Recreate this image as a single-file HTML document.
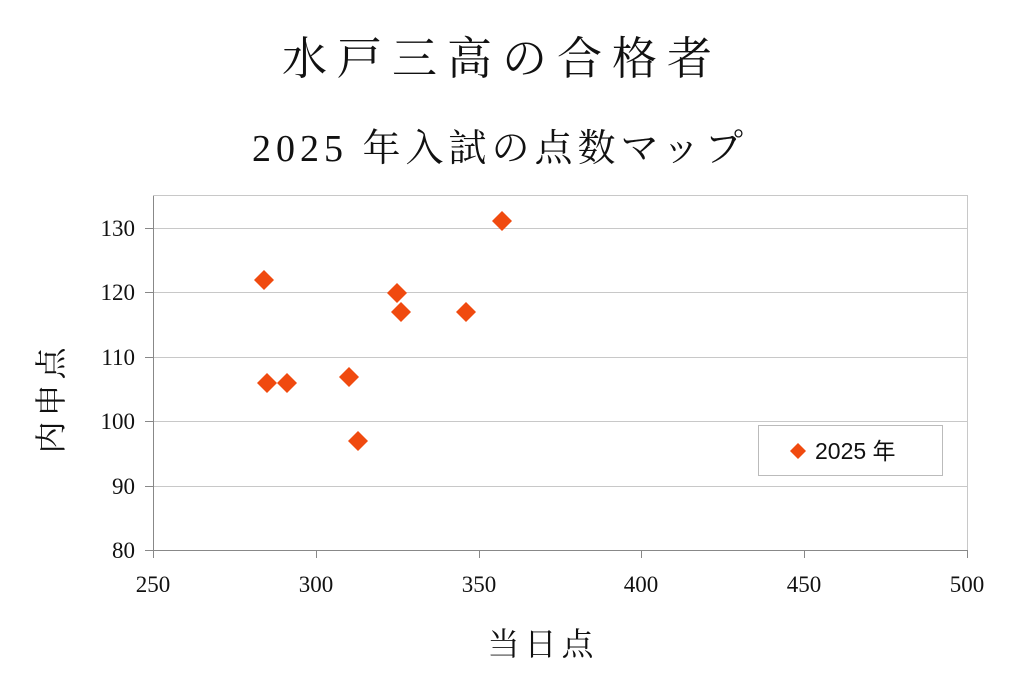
<!DOCTYPE html>
<html><head><meta charset="utf-8"><style>
body{margin:0;background:#fff;}
svg{display:block}
</style></head><body>
<svg width="1024" height="684" xmlns="http://www.w3.org/2000/svg">
<rect width="1024" height="684" fill="#fff"/>
<text x="502" y="74" text-anchor="middle" font-family="'Noto Serif CJK SC','Noto Sans CJK JP',serif" font-size="45" letter-spacing="10" fill="#111">水戸三高の合格者</text>
<text x="500" y="161" text-anchor="middle" font-family="'Liberation Serif','Noto Serif CJK SC',serif" font-size="38" letter-spacing="5" fill="#111">2025 年入試の点数マップ</text>
<g stroke="#c8c8c8" stroke-width="1">
<rect x="153.5" y="195.5" width="814" height="355" fill="none"/>
<line x1="153" y1="228.5" x2="967" y2="228.5"/>
<line x1="153" y1="292.5" x2="967" y2="292.5"/>
<line x1="153" y1="357.5" x2="967" y2="357.5"/>
<line x1="153" y1="421.5" x2="967" y2="421.5"/>
<line x1="153" y1="486.5" x2="967" y2="486.5"/>
</g>
<g stroke="#888" stroke-width="1">
<line x1="153.5" y1="196" x2="153.5" y2="551"/>
<line x1="153" y1="550.5" x2="967" y2="550.5"/>
<line x1="145" y1="228.5" x2="153" y2="228.5"/>
<line x1="145" y1="292.5" x2="153" y2="292.5"/>
<line x1="145" y1="357.5" x2="153" y2="357.5"/>
<line x1="145" y1="421.5" x2="153" y2="421.5"/>
<line x1="145" y1="486.5" x2="153" y2="486.5"/>
<line x1="145" y1="550.5" x2="153" y2="550.5"/>
<line x1="153.5" y1="550" x2="153.5" y2="558"/>
<line x1="316.5" y1="550" x2="316.5" y2="558"/>
<line x1="479.5" y1="550" x2="479.5" y2="558"/>
<line x1="641.5" y1="550" x2="641.5" y2="558"/>
<line x1="804.5" y1="550" x2="804.5" y2="558"/>
<line x1="967.5" y1="550" x2="967.5" y2="558"/>
</g>
<g font-family="'Liberation Serif',serif" font-size="23" fill="#111" text-anchor="end">
<text x="135" y="236">130</text><text x="135" y="300">120</text><text x="135" y="365">110</text>
<text x="135" y="429">100</text><text x="135" y="494">90</text><text x="135" y="558">80</text>
</g>
<g font-family="'Liberation Serif',serif" font-size="23" fill="#111" text-anchor="middle">
<text x="153" y="592">250</text><text x="316" y="592">300</text><text x="479" y="592">350</text>
<text x="641" y="592">400</text><text x="804" y="592">450</text><text x="967" y="592">500</text>
</g>
<text x="543" y="655" text-anchor="middle" font-family="'Noto Serif CJK SC',serif" font-size="32" letter-spacing="5" fill="#111">当日点</text>
<text transform="translate(62,398) rotate(-90)" text-anchor="middle" font-family="'Noto Serif CJK SC',serif" font-size="32" letter-spacing="5" fill="#111">内申点</text>
<g fill="#f04a0f">
<path d="M264,270 l10,10 l-10,10 l-10,-10z"/>
<path d="M267,373 l10,10 l-10,10 l-10,-10z"/>
<path d="M287,373 l10,10 l-10,10 l-10,-10z"/>
<path d="M349,367 l10,10 l-10,10 l-10,-10z"/>
<path d="M358,431 l10,10 l-10,10 l-10,-10z"/>
<path d="M397,283 l10,10 l-10,10 l-10,-10z"/>
<path d="M401,302 l10,10 l-10,10 l-10,-10z"/>
<path d="M466,302 l10,10 l-10,10 l-10,-10z"/>
<path d="M502,211 l10,10 l-10,10 l-10,-10z"/>
<path d="M798,443 l8,8 l-8,8 l-8,-8z"/>
</g>
<rect x="758.5" y="425.5" width="184" height="50" fill="none" stroke="#bbb"/>
<text x="815" y="459" font-family="'Liberation Sans','Noto Sans CJK JP',sans-serif" font-size="23" fill="#111">2025 年</text>
</svg>
</body></html>
